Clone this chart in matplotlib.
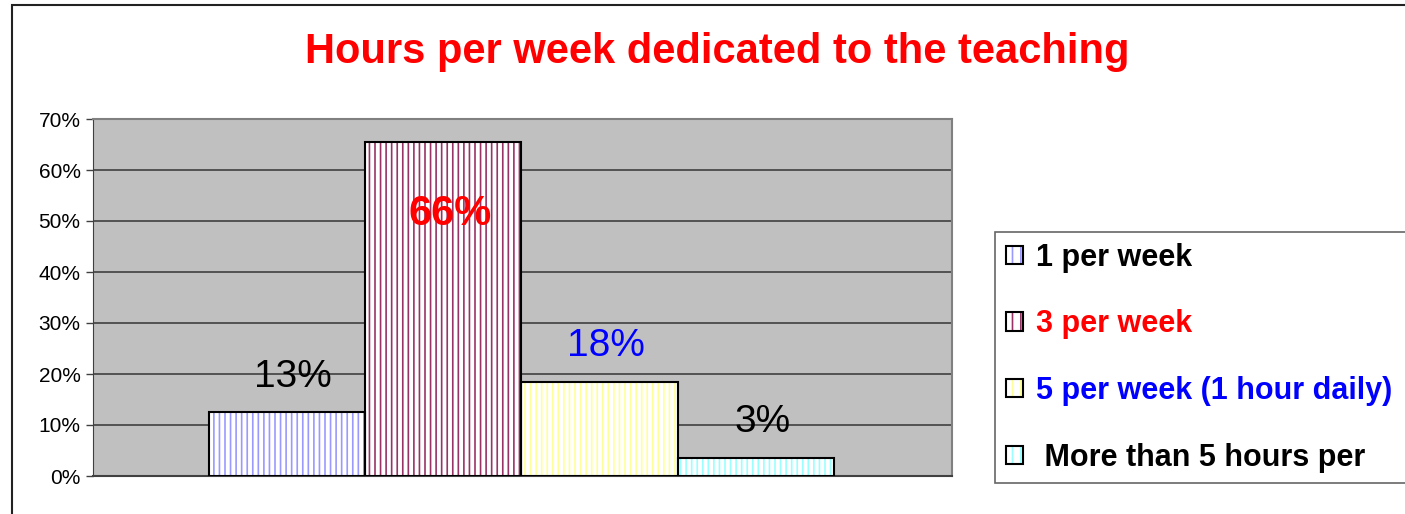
import numpy as np
import matplotlib.pyplot as plt
from matplotlib.patches import Rectangle
from matplotlib.legend_handler import HandlerTuple

plt.rcParams['font.family'] = ['Liberation Sans', 'DejaVu Sans']
plt.rcParams['hatch.linewidth'] = 1.2

categories  = ['1 per week', '3 per week', '5 per week (1 hour daily)', ' More than 5 hours per']
values      = [0.125, 0.655, 0.185, 0.035]
labels      = ['13%', '66%', '18%', '3%']
hatch_cols  = ['#9999FF', '#993366', '#FFFF99', '#99FFFF']
label_cols  = ['black', 'red', 'blue', 'black']
legend_cols = ['black', 'red', 'blue', 'black']
yticks      = [0, 0.1, 0.2, 0.3, 0.4, 0.5, 0.6, 0.7]

W, H = 1405, 514
fig = plt.figure(figsize=(W / 100, H / 100), dpi=100)
fig.patch.set_facecolor('white')

# outer chart frame (only left and top visible)
fig.patches.append(Rectangle((12 / W, -0.2), 1.2, 1.2 - 5 / H,
                             transform=fig.transFigure, fill=False,
                             edgecolor='#222222', linewidth=1.5))

ax = fig.add_axes([93 / W, 38 / H, 859 / W, 357 / H])
ax.set_facecolor('#C0C0C0')

x = np.arange(len(values))
handles = []
for i in range(len(values)):
    ax.bar(x[i], values[i], width=1.0, color='white', edgecolor=hatch_cols[i],
           hatch='|||', linewidth=0, zorder=3)
    ax.bar(x[i], values[i], width=1.0, fill=False, edgecolor='black',
           linewidth=1.5, zorder=4)
    h1 = Rectangle((0, 0), 1, 1, facecolor='white', edgecolor=hatch_cols[i],
                   hatch='||', linewidth=0)
    h2 = Rectangle((0, 0), 1, 1, fill=False, edgecolor='black', linewidth=1.5)
    handles.append((h1, h2))

ax.set_xlim(-1.242, 4.255)
ax.set_ylim(0, 0.7)
ax.set_yticks(yticks)
ax.set_yticklabels(['%d%%' % round(t * 100) for t in yticks], fontsize=15)
ax.set_xticks([])
ax.yaxis.grid(True, color='#404040', linewidth=1.2, zorder=1)
ax.set_axisbelow(True)
ax.tick_params(axis='y', length=5, width=1, color='#404040', pad=4)
for s in ['top', 'right']:
    ax.spines[s].set_color('#808080')
    ax.spines[s].set_linewidth(1.5)
ax.spines['left'].set_color('#404040')
ax.spines['bottom'].set_color('#404040')
ax.spines['bottom'].set_linewidth(1.5)

# data labels
for i in range(len(values)):
    if i == 1:
        # the big label is cut off at the right, as in the original
        t = ax.text(x[i] + 0.045, values[i] - 0.142, labels[i], color=label_cols[i],
                    fontsize=30, fontweight='bold', ha='center', va='center', zorder=5)
        clip = Rectangle((0.5, 0), 0.83, 1, transform=ax.transData)
        t.set_clip_path(clip)
    else:
        ax.text(x[i] + 0.04, values[i] + 0.07, labels[i], color=label_cols[i],
                fontsize=28, ha='center', va='center', zorder=5)

fig.text(717 / W, 1 - 52 / H, 'Hours per week dedicated to the teaching',
         color='red', fontsize=30, fontweight='bold', ha='center', va='center')

leg = fig.legend(handles, categories, handler_map={tuple: HandlerTuple(ndivide=1)},
                 loc='upper left', bbox_to_anchor=(995 / W, 0, 0.32, 1 - 232 / H),
                 mode='expand', borderaxespad=0,
                 handlelength=0.55, handleheight=0.55, handletextpad=0.45,
                 labelspacing=1.2, borderpad=0.35, frameon=True, fancybox=False,
                 edgecolor='#404040', prop={'weight': 'bold', 'size': 22})
leg.get_frame().set_linewidth(1.2)
for txt, c in zip(leg.get_texts(), legend_cols):
    txt.set_color(c)

fig.savefig('out.png', dpi=100)
